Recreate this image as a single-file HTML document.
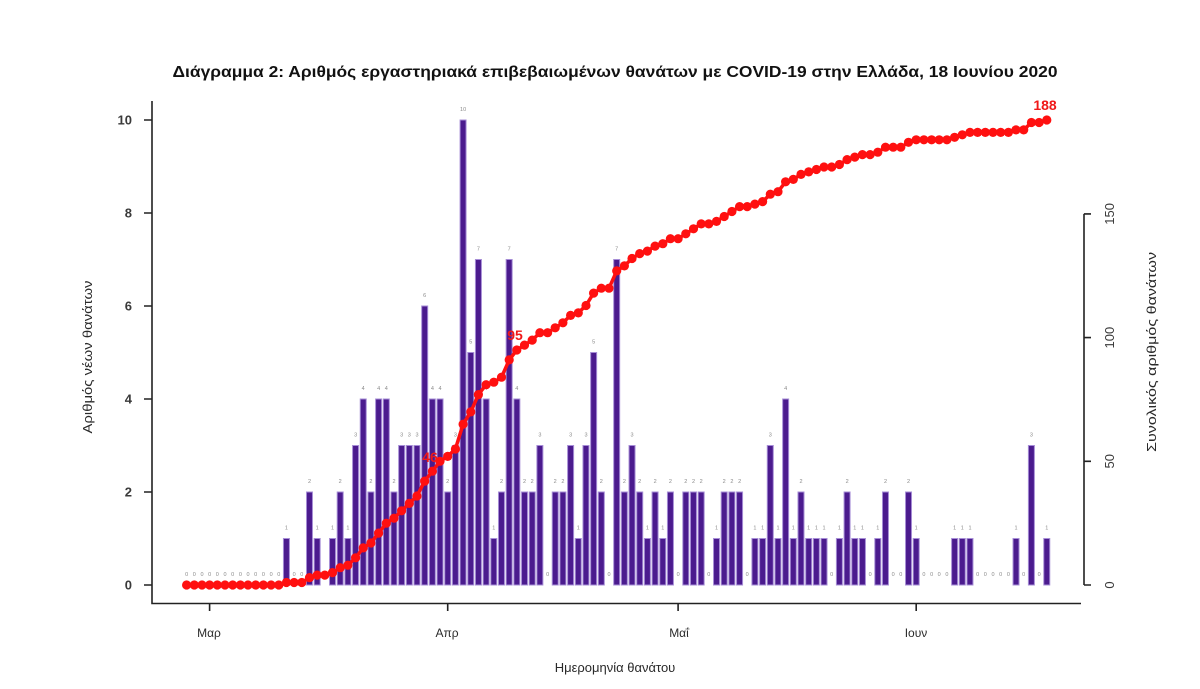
<!DOCTYPE html>
<html><head><meta charset="utf-8"><style>
html,body{margin:0;padding:0;background:#fff;}
svg{display:block;}
text{font-family:"Liberation Sans","DejaVu Sans",sans-serif;}
</style></head><body>
<svg width="1200" height="689" viewBox="0 0 1200 689" xmlns="http://www.w3.org/2000/svg">
<rect width="1200" height="689" fill="#fff"/>
<text x="615" y="77" text-anchor="middle" font-size="16" font-weight="bold" fill="#111" textLength="885" lengthAdjust="spacingAndGlyphs">Διάγραμμα 2: Αριθμός εργαστηριακά επιβεβαιωμένων θανάτων με COVID-19 στην Ελλάδα, 18 Ιουνίου 2020</text>

<!-- bars -->
<g transform="translate(186.6 585) scale(7.68 -46.5)" fill="#4b1b8e" stroke="#a68dd6" stroke-width="1">
<rect x="12.61" y="0" width="0.78" height="1" vector-effect="non-scaling-stroke"/>
<rect x="15.61" y="0" width="0.78" height="2" vector-effect="non-scaling-stroke"/>
<rect x="16.61" y="0" width="0.78" height="1" vector-effect="non-scaling-stroke"/>
<rect x="18.61" y="0" width="0.78" height="1" vector-effect="non-scaling-stroke"/>
<rect x="19.61" y="0" width="0.78" height="2" vector-effect="non-scaling-stroke"/>
<rect x="20.61" y="0" width="0.78" height="1" vector-effect="non-scaling-stroke"/>
<rect x="21.61" y="0" width="0.78" height="3" vector-effect="non-scaling-stroke"/>
<rect x="22.61" y="0" width="0.78" height="4" vector-effect="non-scaling-stroke"/>
<rect x="23.61" y="0" width="0.78" height="2" vector-effect="non-scaling-stroke"/>
<rect x="24.61" y="0" width="0.78" height="4" vector-effect="non-scaling-stroke"/>
<rect x="25.61" y="0" width="0.78" height="4" vector-effect="non-scaling-stroke"/>
<rect x="26.61" y="0" width="0.78" height="2" vector-effect="non-scaling-stroke"/>
<rect x="27.61" y="0" width="0.78" height="3" vector-effect="non-scaling-stroke"/>
<rect x="28.61" y="0" width="0.78" height="3" vector-effect="non-scaling-stroke"/>
<rect x="29.61" y="0" width="0.78" height="3" vector-effect="non-scaling-stroke"/>
<rect x="30.61" y="0" width="0.78" height="6" vector-effect="non-scaling-stroke"/>
<rect x="31.61" y="0" width="0.78" height="4" vector-effect="non-scaling-stroke"/>
<rect x="32.61" y="0" width="0.78" height="4" vector-effect="non-scaling-stroke"/>
<rect x="33.61" y="0" width="0.78" height="2" vector-effect="non-scaling-stroke"/>
<rect x="34.61" y="0" width="0.78" height="3" vector-effect="non-scaling-stroke"/>
<rect x="35.61" y="0" width="0.78" height="10" vector-effect="non-scaling-stroke"/>
<rect x="36.61" y="0" width="0.78" height="5" vector-effect="non-scaling-stroke"/>
<rect x="37.61" y="0" width="0.78" height="7" vector-effect="non-scaling-stroke"/>
<rect x="38.61" y="0" width="0.78" height="4" vector-effect="non-scaling-stroke"/>
<rect x="39.61" y="0" width="0.78" height="1" vector-effect="non-scaling-stroke"/>
<rect x="40.61" y="0" width="0.78" height="2" vector-effect="non-scaling-stroke"/>
<rect x="41.61" y="0" width="0.78" height="7" vector-effect="non-scaling-stroke"/>
<rect x="42.61" y="0" width="0.78" height="4" vector-effect="non-scaling-stroke"/>
<rect x="43.61" y="0" width="0.78" height="2" vector-effect="non-scaling-stroke"/>
<rect x="44.61" y="0" width="0.78" height="2" vector-effect="non-scaling-stroke"/>
<rect x="45.61" y="0" width="0.78" height="3" vector-effect="non-scaling-stroke"/>
<rect x="47.61" y="0" width="0.78" height="2" vector-effect="non-scaling-stroke"/>
<rect x="48.61" y="0" width="0.78" height="2" vector-effect="non-scaling-stroke"/>
<rect x="49.61" y="0" width="0.78" height="3" vector-effect="non-scaling-stroke"/>
<rect x="50.61" y="0" width="0.78" height="1" vector-effect="non-scaling-stroke"/>
<rect x="51.61" y="0" width="0.78" height="3" vector-effect="non-scaling-stroke"/>
<rect x="52.61" y="0" width="0.78" height="5" vector-effect="non-scaling-stroke"/>
<rect x="53.61" y="0" width="0.78" height="2" vector-effect="non-scaling-stroke"/>
<rect x="55.61" y="0" width="0.78" height="7" vector-effect="non-scaling-stroke"/>
<rect x="56.61" y="0" width="0.78" height="2" vector-effect="non-scaling-stroke"/>
<rect x="57.61" y="0" width="0.78" height="3" vector-effect="non-scaling-stroke"/>
<rect x="58.61" y="0" width="0.78" height="2" vector-effect="non-scaling-stroke"/>
<rect x="59.61" y="0" width="0.78" height="1" vector-effect="non-scaling-stroke"/>
<rect x="60.61" y="0" width="0.78" height="2" vector-effect="non-scaling-stroke"/>
<rect x="61.61" y="0" width="0.78" height="1" vector-effect="non-scaling-stroke"/>
<rect x="62.61" y="0" width="0.78" height="2" vector-effect="non-scaling-stroke"/>
<rect x="64.61" y="0" width="0.78" height="2" vector-effect="non-scaling-stroke"/>
<rect x="65.61" y="0" width="0.78" height="2" vector-effect="non-scaling-stroke"/>
<rect x="66.61" y="0" width="0.78" height="2" vector-effect="non-scaling-stroke"/>
<rect x="68.61" y="0" width="0.78" height="1" vector-effect="non-scaling-stroke"/>
<rect x="69.61" y="0" width="0.78" height="2" vector-effect="non-scaling-stroke"/>
<rect x="70.61" y="0" width="0.78" height="2" vector-effect="non-scaling-stroke"/>
<rect x="71.61" y="0" width="0.78" height="2" vector-effect="non-scaling-stroke"/>
<rect x="73.61" y="0" width="0.78" height="1" vector-effect="non-scaling-stroke"/>
<rect x="74.61" y="0" width="0.78" height="1" vector-effect="non-scaling-stroke"/>
<rect x="75.61" y="0" width="0.78" height="3" vector-effect="non-scaling-stroke"/>
<rect x="76.61" y="0" width="0.78" height="1" vector-effect="non-scaling-stroke"/>
<rect x="77.61" y="0" width="0.78" height="4" vector-effect="non-scaling-stroke"/>
<rect x="78.61" y="0" width="0.78" height="1" vector-effect="non-scaling-stroke"/>
<rect x="79.61" y="0" width="0.78" height="2" vector-effect="non-scaling-stroke"/>
<rect x="80.61" y="0" width="0.78" height="1" vector-effect="non-scaling-stroke"/>
<rect x="81.61" y="0" width="0.78" height="1" vector-effect="non-scaling-stroke"/>
<rect x="82.61" y="0" width="0.78" height="1" vector-effect="non-scaling-stroke"/>
<rect x="84.61" y="0" width="0.78" height="1" vector-effect="non-scaling-stroke"/>
<rect x="85.61" y="0" width="0.78" height="2" vector-effect="non-scaling-stroke"/>
<rect x="86.61" y="0" width="0.78" height="1" vector-effect="non-scaling-stroke"/>
<rect x="87.61" y="0" width="0.78" height="1" vector-effect="non-scaling-stroke"/>
<rect x="89.61" y="0" width="0.78" height="1" vector-effect="non-scaling-stroke"/>
<rect x="90.61" y="0" width="0.78" height="2" vector-effect="non-scaling-stroke"/>
<rect x="93.61" y="0" width="0.78" height="2" vector-effect="non-scaling-stroke"/>
<rect x="94.61" y="0" width="0.78" height="1" vector-effect="non-scaling-stroke"/>
<rect x="99.61" y="0" width="0.78" height="1" vector-effect="non-scaling-stroke"/>
<rect x="100.61" y="0" width="0.78" height="1" vector-effect="non-scaling-stroke"/>
<rect x="101.61" y="0" width="0.78" height="1" vector-effect="non-scaling-stroke"/>
<rect x="107.61" y="0" width="0.78" height="1" vector-effect="non-scaling-stroke"/>
<rect x="109.61" y="0" width="0.78" height="3" vector-effect="non-scaling-stroke"/>
<rect x="111.61" y="0" width="0.78" height="1" vector-effect="non-scaling-stroke"/>
</g>

<!-- bar value labels -->
<g font-size="5.5" fill="#8a8a8a" text-anchor="middle">
<text x="186.6" y="576">0</text><text x="194.3" y="576">0</text><text x="202.0" y="576">0</text><text x="209.6" y="576">0</text><text x="217.3" y="576">0</text><text x="225.0" y="576">0</text><text x="232.7" y="576">0</text><text x="240.4" y="576">0</text><text x="248.0" y="576">0</text><text x="255.7" y="576">0</text><text x="263.4" y="576">0</text><text x="271.1" y="576">0</text><text x="278.8" y="576">0</text>
<text x="286.4" y="529.5">1</text><text x="294.1" y="576">0</text><text x="301.8" y="576">0</text><text x="309.5" y="483">2</text><text x="317.2" y="529.5">1</text><text x="324.8" y="576">0</text><text x="332.5" y="529.5">1</text><text x="340.2" y="483">2</text><text x="347.9" y="529.5">1</text><text x="355.6" y="436.5">3</text>
<text x="363.2" y="390">4</text><text x="370.9" y="483">2</text><text x="378.6" y="390">4</text><text x="386.3" y="390">4</text><text x="394.0" y="483">2</text><text x="401.6" y="436.5">3</text><text x="409.3" y="436.5">3</text><text x="417.0" y="436.5">3</text><text x="424.7" y="297">6</text><text x="432.4" y="390">4</text>
<text x="440.0" y="390">4</text><text x="447.7" y="483">2</text><text x="455.4" y="436.5">3</text><text x="463.1" y="111">10</text><text x="470.8" y="343.5">5</text><text x="478.4" y="250.5">7</text><text x="486.1" y="390">4</text><text x="493.8" y="529.5">1</text><text x="501.5" y="483">2</text><text x="509.2" y="250.5">7</text>
<text x="516.8" y="390">4</text><text x="524.5" y="483">2</text><text x="532.2" y="483">2</text><text x="539.9" y="436.5">3</text><text x="547.6" y="576">0</text><text x="555.2" y="483">2</text><text x="562.9" y="483">2</text><text x="570.6" y="436.5">3</text><text x="578.3" y="529.5">1</text><text x="586.0" y="436.5">3</text>
<text x="593.6" y="343.5">5</text><text x="601.3" y="483">2</text><text x="609.0" y="576">0</text><text x="616.7" y="250.5">7</text><text x="624.4" y="483">2</text><text x="632.0" y="436.5">3</text><text x="639.7" y="483">2</text><text x="647.4" y="529.5">1</text><text x="655.1" y="483">2</text><text x="662.8" y="529.5">1</text>
<text x="670.4" y="483">2</text><text x="678.1" y="576">0</text><text x="685.8" y="483">2</text><text x="693.5" y="483">2</text><text x="701.2" y="483">2</text><text x="708.8" y="576">0</text><text x="716.5" y="529.5">1</text><text x="724.2" y="483">2</text><text x="731.9" y="483">2</text><text x="739.6" y="483">2</text>
<text x="747.2" y="576">0</text><text x="754.9" y="529.5">1</text><text x="762.6" y="529.5">1</text><text x="770.3" y="436.5">3</text><text x="778.0" y="529.5">1</text><text x="785.6" y="390">4</text><text x="793.3" y="529.5">1</text><text x="801.0" y="483">2</text><text x="808.7" y="529.5">1</text><text x="816.4" y="529.5">1</text>
<text x="824.0" y="529.5">1</text><text x="831.7" y="576">0</text><text x="839.4" y="529.5">1</text><text x="847.1" y="483">2</text><text x="854.8" y="529.5">1</text><text x="862.4" y="529.5">1</text><text x="870.1" y="576">0</text><text x="877.8" y="529.5">1</text><text x="885.5" y="483">2</text><text x="893.2" y="576">0</text>
<text x="900.8" y="576">0</text><text x="908.5" y="483">2</text><text x="916.2" y="529.5">1</text><text x="923.9" y="576">0</text><text x="931.6" y="576">0</text><text x="939.2" y="576">0</text><text x="946.9" y="576">0</text><text x="954.6" y="529.5">1</text><text x="962.3" y="529.5">1</text><text x="970.0" y="529.5">1</text>
<text x="977.6" y="576">0</text><text x="985.3" y="576">0</text><text x="993.0" y="576">0</text><text x="1000.7" y="576">0</text><text x="1008.4" y="576">0</text><text x="1016.0" y="529.5">1</text><text x="1023.7" y="576">0</text><text x="1031.4" y="436.5">3</text><text x="1039.1" y="576">0</text><text x="1046.8" y="529.5">1</text>
</g>

<!-- cumulative labels -->
<g font-size="14" font-weight="bold" fill="#f01818" text-anchor="middle">
<text x="430" y="462">46</text>
<text x="515" y="340">95</text>
<text x="1045" y="110">188</text>
</g>

<!-- cumulative line -->
<defs>
<marker id="dot" markerWidth="12" markerHeight="12" refX="6" refY="6" markerUnits="userSpaceOnUse">
<circle cx="6" cy="6" r="4.6" fill="#ff1010"/>
</marker>
</defs>
<polyline fill="none" stroke="#ff1010" stroke-width="3.5" stroke-linejoin="round" marker-start="url(#dot)" marker-mid="url(#dot)" marker-end="url(#dot)" points="186.6,585 194.3,585 202.0,585 209.6,585 217.3,585 225.0,585 232.7,585 240.4,585 248.0,585 255.7,585 263.4,585 271.1,585 278.8,585 286.4,582.5 294.1,582.5 301.8,582.5 309.5,577.6 317.2,575.1 324.8,575.1 332.5,572.6 340.2,567.7 347.9,565.2 355.6,557.8 363.2,547.9 370.9,543.0 378.6,533.1 386.3,523.2 394.0,518.2 401.6,510.8 409.3,503.4 417.0,496.0 424.7,481.1 432.4,471.2 440.0,461.3 447.7,456.4 455.4,449.0 463.1,424.2 470.8,411.9 478.4,394.6 486.1,384.7 493.8,382.2 501.5,377.2 509.2,359.9 516.8,350.0 524.5,345.1 532.2,340.1 539.9,332.7 547.6,332.7 555.2,327.8 562.9,322.8 570.6,315.4 578.3,312.9 586.0,305.5 593.6,293.1 601.3,288.2 609.0,288.2 616.7,270.9 624.4,265.9 632.0,258.5 639.7,253.6 647.4,251.1 655.1,246.1 662.8,243.7 670.4,238.7 678.1,238.7 685.8,233.8 693.5,228.8 701.2,223.9 708.8,223.9 716.5,221.4 724.2,216.5 731.9,211.5 739.6,206.6 747.2,206.6 754.9,204.1 762.6,201.6 770.3,194.2 778.0,191.7 785.6,181.8 793.3,179.4 801.0,174.4 808.7,171.9 816.4,169.5 824.0,167.0 831.7,167.0 839.4,164.5 847.1,159.6 854.8,157.1 862.4,154.6 870.1,154.6 877.8,152.2 885.5,147.2 893.2,147.2 900.8,147.2 908.5,142.3 916.2,139.8 923.9,139.8 931.6,139.8 939.2,139.8 946.9,139.8 954.6,137.3 962.3,134.8 970.0,132.4 977.6,132.4 985.3,132.4 993.0,132.4 1000.7,132.4 1008.4,132.4 1016.0,129.9 1023.7,129.9 1031.4,122.5 1039.1,122.5 1046.8,120.0"/>

<!-- axes -->
<g stroke="#222" stroke-width="1.6" fill="none">
<path d="M152 101 V603.5 H1081"/>
<path d="M144 585 H152 M144 492 H152 M144 399 H152 M144 306 H152 M144 213 H152 M144 120 H152"/>
<path d="M209.6 603 V611 M447.7 603 V611 M678.1 603 V611 M916.2 603 V611"/>
<path d="M1084 213.9 V585 M1084 213.9 H1091 M1084 337.6 H1091 M1084 461.3 H1091 M1084 585 H1091"/>
</g>

<g font-size="13" font-weight="bold" fill="#3a3a3a" text-anchor="end">
<text x="132" y="589.5">0</text>
<text x="132" y="496.5">2</text>
<text x="132" y="403.5">4</text>
<text x="132" y="310.5">6</text>
<text x="132" y="217.5">8</text>
<text x="132" y="124.5">10</text>
</g>

<g font-size="12" fill="#2a2a2a" text-anchor="middle">
<text x="209" y="637">Μαρ</text>
<text x="447" y="637">Απρ</text>
<text x="679" y="637">Μαΐ</text>
<text x="916" y="637">Ιουν</text>
</g>

<g font-size="13" fill="#3a3a3a" text-anchor="middle">
<text transform="translate(1114 213.9) rotate(-90)">150</text>
<text transform="translate(1114 337.6) rotate(-90)">100</text>
<text transform="translate(1114 461.3) rotate(-90)">50</text>
<text transform="translate(1114 585) rotate(-90)">0</text>
</g>

<text x="615" y="672" font-size="13" fill="#2a2a2a" text-anchor="middle">Ημερομηνία θανάτου</text>
<text transform="translate(92 357) rotate(-90)" font-size="13" fill="#2a2a2a" text-anchor="middle" textLength="153" lengthAdjust="spacingAndGlyphs">Αριθμός νέων θανάτων</text>
<text transform="translate(1156 352) rotate(-90)" font-size="13" fill="#2a2a2a" text-anchor="middle" textLength="200" lengthAdjust="spacingAndGlyphs">Συνολικός αριθμός θανάτων</text>
</svg>
</body></html>
